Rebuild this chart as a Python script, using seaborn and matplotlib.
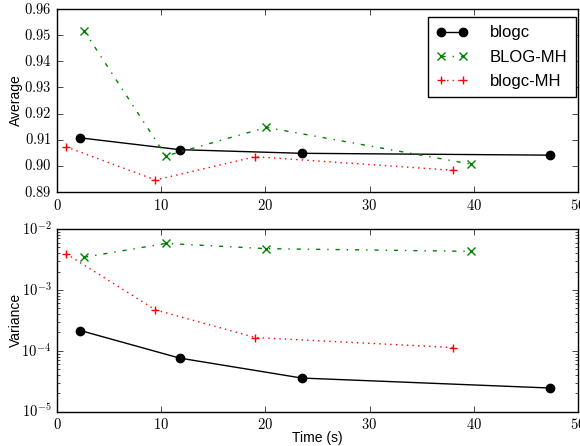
import matplotlib

matplotlib.use("Agg")
import matplotlib.pyplot as plt
import numpy as np
import pandas as pd
import seaborn as sns
from matplotlib.ticker import FuncFormatter, MultipleLocator

# values
blogc_time = [2.25, 11.76, 23.5, 47.3]
blogc_avg = [0.9107, 0.9062, 0.9048, 0.9041]
blogc_var = [2.15e-4, 7.6e-5, 3.57e-5, 2.45e-5]

mh_time = [2.6, 10.45, 20.1, 39.7]
mh_avg = [0.9517, 0.9038, 0.9147, 0.9007]
mh_var = [3.44e-3, 5.8e-3, 4.76e-3, 4.3e-3]

blogcmh_time = [0.86, 9.45, 19.05, 38.06]
blogcmh_avg = [0.9073, 0.8946, 0.9035, 0.8983]
blogcmh_var = [3.94e-3, 4.7e-4, 1.65e-4, 1.13e-4]

series_names = ["blogc", "BLOG-MH", "blogc-MH"]
series_colors = ["k", "g", "r"]
series_markers = ["o", "x", "+"]
series_styles = ["-", "-.", ":"]

frames = []
for name, t, a, v in zip(
    series_names,
    [blogc_time, mh_time, blogcmh_time],
    [blogc_avg, mh_avg, blogcmh_avg],
    [blogc_var, mh_var, blogcmh_var],
):
    frames.append(pd.DataFrame({"method": name, "time": t, "avg": a, "var": v}))
df = pd.concat(frames, ignore_index=True)

plt.style.use("classic")
plt.rcParams["figure.facecolor"] = "white"
plt.rcParams["savefig.facecolor"] = "white"
plt.rcParams["mathtext.fontset"] = "cm"
plt.rcParams["font.family"] = ["Liberation Sans", "DejaVu Sans"]

fig = plt.figure(figsize=(5.8, 4.46), dpi=100)
ax1 = fig.add_axes([0.0983, 0.5695, 0.898, 0.4103])
ax2 = fig.add_axes([0.0983, 0.0769, 0.898, 0.4096])

for name, color, marker, ls in zip(series_names, series_colors, series_markers, series_styles):
    sub = df[df["method"] == name]
    for ax, col in [(ax1, "avg"), (ax2, "var")]:
        sns.lineplot(
            data=sub, x="time", y=col, ax=ax, color=color, marker=marker,
            linestyle=ls, linewidth=1, markersize=6,
            markeredgecolor=color, markeredgewidth=1, label=name,
            estimator=None, sort=False, legend=False,
        )

math_fmt2 = FuncFormatter(lambda v, p: f"${v:.2f}$")
math_int = FuncFormatter(lambda v, p: f"${v:g}$")
math_pow = FuncFormatter(lambda v, p: f"$10^{{{int(round(np.log10(v)))}}}$")

ax1.set_xlim(0, 50)
ax1.set_ylim(0.89, 0.96)
ax1.yaxis.set_major_locator(MultipleLocator(0.01))
ax1.yaxis.set_major_formatter(math_fmt2)
ax1.xaxis.set_major_locator(MultipleLocator(10))
ax1.xaxis.set_major_formatter(math_int)
ax1.set_xlabel("")
ax1.set_ylabel("Average", fontsize=10)
ax1.legend(loc="upper right", bbox_to_anchor=(0.996, 0.956), borderaxespad=0,
           numpoints=2, fontsize=12, fancybox=False, handlelength=1.9,
           labelspacing=0.55, borderpad=0.5, handletextpad=1.3)

ax2.set_xlim(0, 50)
ax2.set_yscale("log")
ax2.set_ylim(1e-5, 1e-2)
ax2.yaxis.set_major_formatter(math_pow)
ax2.xaxis.set_major_locator(MultipleLocator(10))
ax2.xaxis.set_major_formatter(math_int)
ax2.set_xlabel("Time (s)", fontsize=10)
ax2.set_ylabel("Variance", fontsize=10)

for ax in (ax1, ax2):
    ax.tick_params(labelsize=10.5)
    ax.yaxis.set_label_coords(-0.066, 0.5)
ax2.xaxis.set_label_coords(0.5, -0.105)

fig.savefig("out.png", dpi=100)
